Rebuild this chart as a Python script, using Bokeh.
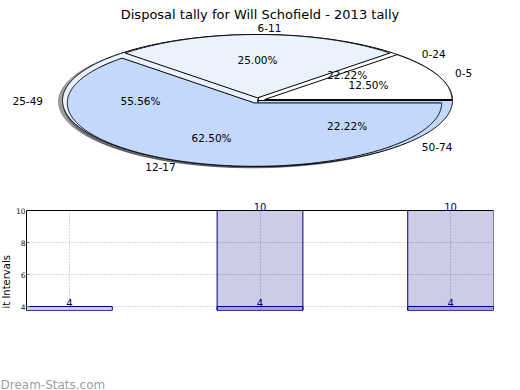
import numpy as np
from bokeh.plotting import figure
from bokeh.layouts import column, row
from bokeh.models import (Range1d, Label, LabelSet, ColumnDataSource, FixedTicker, Span)
from bokeh.core.properties import value
from bokeh.embed import file_html
from bokeh.resources import INLINE

# ---------------- data ----------------
TITLE = "Disposal tally for Will Schofield - 2013 tally"
inner_labels = ["0-5", "6-11", "12-17"]
inner_counts = [1, 2, 5]
outer_labels = ["0-24", "25-49", "50-74"]
outer_counts = [2, 5, 2]
pie_colors = ["#ffffff", "#eaf2fe", "#c4d8fe"]

bar_x = [0, 1, 2]
series_low = [4, 4, 4]
series_high = [0, 10, 10]
y_ticks = [4, 6, 8, 10]
y_label = "it Intervals"
watermark = "Dream-Stats.com"

FONT = "DejaVu Sans"
W = 520
PIE_H = 198
MID_H = 114
BOT_H = 78
STRIP_W = 12
Y_MIN, Y_TOP, Y_MAX = 3.75, 10, 10.5


def blank(width, height):
    f = figure(width=width, height=height, output_backend="svg", toolbar_location=None,
               x_axis_location=None, y_axis_location=None, min_border=0, title=None)
    f.outline_line_color = None
    f.grid.visible = False
    return f


# ---------------- pie ----------------
cx_px, cy_px = 257.0, 100.0
rx_px, ry_px = 195.0, 66.0
pie = figure(width=W, height=PIE_H, output_backend="svg", toolbar_location=None,
             x_range=Range1d(-cx_px / rx_px, (W - cx_px) / rx_px),
             y_range=Range1d(-(PIE_H - cy_px) / ry_px, cy_px / ry_px),
             x_axis_location=None, y_axis_location=None, min_border=0, title=None)
pie.outline_line_color = None
pie.grid.visible = False


def pie_parts(counts, radius, explode):
    total = float(sum(counts))
    t1 = 0.0
    parts = []
    for c in counts:
        t2 = t1 + 360.0 * c / total
        mid = np.radians(0.5 * (t1 + t2))
        ox, oy = explode * np.cos(mid), explode * np.sin(mid)
        th = np.radians(np.linspace(t1, t2, int(max(6, (t2 - t1) * 2))))
        xs = np.concatenate([[ox], ox + radius * np.cos(th), [ox]])
        ys = np.concatenate([[oy], oy + radius * np.sin(th), [oy]])
        parts.append(dict(xs=xs, ys=ys, mid=mid, ox=ox, oy=oy, frac=c / total, r=radius))
        t1 = t2
    return parts


def darker(hexcol, f=0.3):
    h = hexcol.lstrip("#")
    rgb = [int(h[i:i + 2], 16) for i in (0, 2, 4)]
    return "#%02x%02x%02x" % tuple(int(v * f) for v in rgb)


outer = pie_parts(outer_counts, 1.0, 0.0)
inner = pie_parts(inner_counts, 0.96, 0.04)

# shadows (beneath all wedges)
for parts in (outer, inner):
    pie.patches(xs=[p["xs"] - 0.02 for p in parts], ys=[p["ys"] - 0.02 for p in parts],
                fill_color=[darker(c) for c in pie_colors], fill_alpha=0.5,
                line_color=[darker(c) for c in pie_colors], line_alpha=0.5)
# wedges
for parts in (outer, inner):
    pie.patches(xs=[p["xs"] for p in parts], ys=[p["ys"] for p in parts],
                fill_color=pie_colors, line_color="black", line_width=1)

# labels
lx, ly, lt, la = [], [], [], []
px, py, pt = [], [], []
for parts, labels in ((outer, outer_labels), (inner, inner_labels)):
    for p, lab in zip(parts, labels):
        xt = p["ox"] + 1.1 * p["r"] * np.cos(p["mid"])
        yt = p["oy"] + 1.1 * p["r"] * np.sin(p["mid"])
        lx.append(xt); ly.append(yt); lt.append(lab)
        la.append("left" if xt > 0 else "right")
        px.append(p["ox"] + 0.6 * p["r"] * np.cos(p["mid"]))
        py.append(p["oy"] + 0.6 * p["r"] * np.sin(p["mid"]))
        pt.append("%.2f%%" % (p["frac"] * 100))

pie.text(x="x", y="y", text="t", text_align="a",
         source=ColumnDataSource(dict(x=lx, y=ly, t=lt, a=la)),
         text_baseline="middle", text_font=value(FONT), text_font_size="10.5px",
         text_color="black")
pie.text(x=px, y=py, text=pt, text_align="center", text_baseline="middle",
         text_font=value(FONT), text_font_size="10.5px", text_color="black")

pie.add_layout(Label(x=259.5, y=PIE_H - 14, x_units="screen", y_units="screen",
                     text=TITLE, text_align="center", text_baseline="alphabetic",
                     text_font=FONT, text_font_size="13px", text_color="black"))

# ---------------- bars ----------------
bar = figure(width=W - STRIP_W, height=MID_H, output_backend="svg", toolbar_location=None,
             x_range=Range1d(-0.225, 2.225), y_range=Range1d(Y_MIN, Y_MAX),
             x_axis_location=None, y_axis_location="left",
             min_border_left=25 - STRIP_W, min_border_right=27, min_border_top=4,
             min_border_bottom=MID_H - 112, title=None)
bar.outline_line_color = None

bar.xgrid.ticker = FixedTicker(ticks=bar_x)
bar.xgrid.cross_bounds = (Y_MIN, Y_TOP)
bar.ygrid.ticker = FixedTicker(ticks=y_ticks[:-1])
bar.grid.grid_line_color = "#b0b0b0"
bar.grid.grid_line_dash = "1 2"
bar.grid.grid_line_width = 1

ya = bar.yaxis[0]
ya.ticker = FixedTicker(ticks=y_ticks)
ya.bounds = (Y_MIN, Y_TOP)
ya.major_tick_in = 3
ya.major_tick_out = 0
ya.minor_tick_line_color = None
ya.major_tick_line_color = "#808080"
ya.axis_line_color = "black"
ya.major_label_standoff = 1
ya.major_label_text_font = FONT
ya.major_label_text_font_size = "7.5px"
ya.major_label_text_color = "#222222"

bar.add_layout(Span(location=Y_TOP, dimension="width", line_color="black", line_width=1))

for s in (series_high, series_low):
    bar.vbar(x=bar_x, top=s, bottom=0, width=0.45, fill_color="navy", fill_alpha=0.2,
             line_color="navy", line_width=1)

tx, ty, tt = [], [], []
for s in (series_low, series_high):
    for xv, yv in zip(bar_x, s):
        if yv > 0:
            tx.append(xv); ty.append(yv); tt.append(str(yv))
bar.add_layout(LabelSet(x="x", y="y", text="t", source=ColumnDataSource(dict(x=tx, y=ty, t=tt)),
                        text_align="center", text_baseline="alphabetic", text_color="navy",
                        text_font=value(FONT), text_font_size="10px"))

# strip holding the (cropped) y-axis title
strip = blank(STRIP_W, MID_H)
strip.add_layout(Label(x=0, y=MID_H - 112, x_units="screen", y_units="screen", text=y_label,
                       angle=np.pi / 2, text_align="left", text_baseline="top",
                       text_font=FONT, text_font_size="10px", text_color="black"))

# bottom strip with watermark
bottom = blank(W, BOT_H)
bottom.add_layout(Label(x=0, y=6, x_units="screen", y_units="screen", text=watermark,
                        text_align="left", text_baseline="alphabetic",
                        text_font=FONT, text_font_size="12px", text_color="#a0a0a0"))

layout = column(pie, row(strip, bar), bottom)
open("out.html", "w").write(file_html(layout, INLINE))
